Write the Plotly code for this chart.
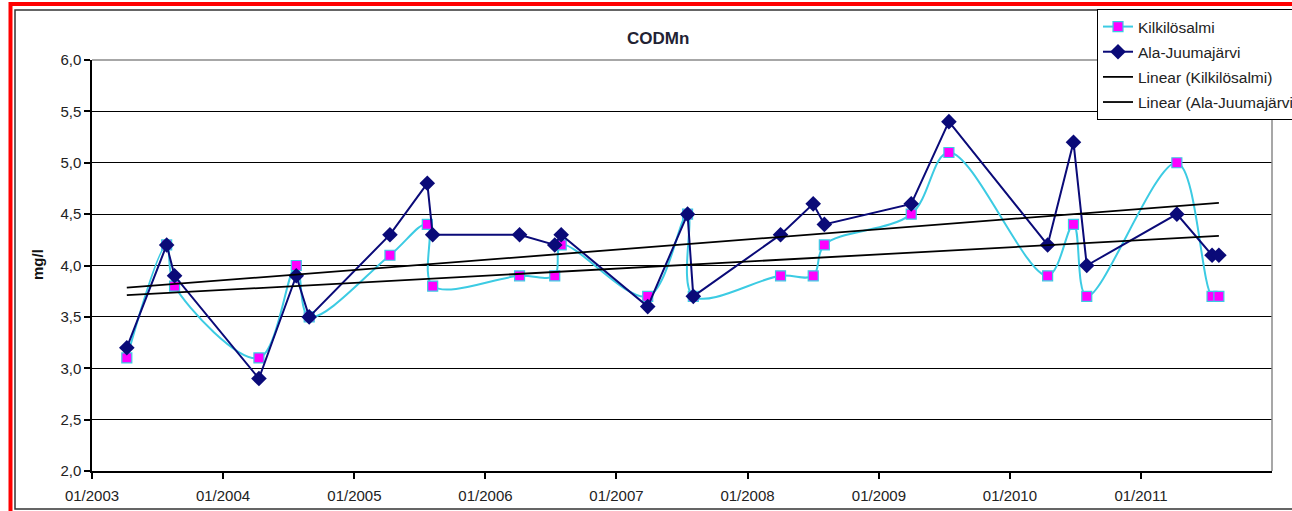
import numpy as np
import pandas as pd
import plotly.graph_objects as go

# ---- data ----
dates = ["2003-04-08", "2003-07-28", "2003-08-19",
         "2004-04-10", "2004-07-23", "2004-08-28",
         "2005-04-10", "2005-07-23", "2005-08-07",
         "2006-04-06", "2006-07-13", "2006-07-31",
         "2007-03-29", "2007-07-18", "2007-08-03",
         "2008-04-02", "2008-07-02", "2008-08-02",
         "2009-04-01", "2009-07-15",
         "2010-04-16", "2010-06-27", "2010-08-03",
         "2011-04-11", "2011-07-18", "2011-08-06"]
kilkilosalmi = [3.1, 4.2, 3.8, 3.1, 4.0, 3.5, 4.1, 4.4, 3.8, 3.9, 3.9, 4.2, 3.7,
                4.5, 3.7, 3.9, 3.9, 4.2, 4.5, 5.1, 3.9, 4.4, 3.7, 5.0, 3.7, 3.7]
ala_juumajarvi = [3.2, 4.2, 3.9, 2.9, 3.9, 3.5, 4.3, 4.8, 4.3, 4.3, 4.2, 4.3, 3.6,
                  4.5, 3.7, 4.3, 4.6, 4.4, 4.6, 5.4, 4.2, 5.2, 4.0, 4.5, 4.1, 4.1]
x_tick_vals = ["2003-01-01", "2004-01-01", "2005-01-01", "2006-01-01", "2007-01-01",
               "2008-01-01", "2009-01-01", "2010-01-01", "2011-01-01"]
x_tick_text = ["01/2003", "01/2004", "01/2005", "01/2006", "01/2007",
               "01/2008", "01/2009", "01/2010", "01/2011"]
y_tick_vals = [2.0, 2.5, 3.0, 3.5, 4.0, 4.5, 5.0, 5.5, 6.0]
y_tick_text = ["2,0", "2,5", "3,0", "3,5", "4,0", "4,5", "5,0", "5,5", "6,0"]

# ---- linear trendlines (least squares on date serial) ----
dt = pd.to_datetime(dates)
xnum = (dt - dt[0]).days.values.astype(float)
def trend(vals):
    k, b = np.polyfit(xnum, np.array(vals), 1)
    ends = np.array([xnum[0], xnum[-1]])
    return [dt[0], dt[-1]], list(k * ends + b)

tx_k, ty_k = trend(kilkilosalmi)
tx_a, ty_a = trend(ala_juumajarvi)

FONT = "Liberation Sans, Arial, sans-serif"
fig = go.Figure()
fig.add_trace(go.Scatter(
    x=dates, y=kilkilosalmi, name="Kilkilösalmi", mode="lines+markers",
    line=dict(color="#3CCBE3", width=2, shape="spline", smoothing=1.0),
    marker=dict(symbol="square", size=10, color="#FF00FF", line=dict(color="#3CCBE3", width=1.2)),
    legendgroup="a"))
fig.add_trace(go.Scatter(
    x=dates, y=ala_juumajarvi, name="Ala-Juumajärvi", mode="lines+markers",
    line=dict(color="#0A0A78", width=2),
    marker=dict(symbol="diamond", size=12, color="#0A0A78"),
    legendgroup="b"))
fig.add_trace(go.Scatter(
    x=tx_k, y=ty_k, name="Linear (Kilkilösalmi)", mode="lines",
    line=dict(color="black", width=1.8), legendgroup="c"))
fig.add_trace(go.Scatter(
    x=tx_a, y=ty_a, name="Linear (Ala-Juumajärvi)", mode="lines",
    line=dict(color="black", width=1.8), legendgroup="d"))

W, H = 1292, 511
L, R, T, B = 92, 20, 60, 40
pw, ph = W - L - R, H - T - B
def px(xp):
    return (xp - L) / pw
def py(yp):
    return (H - B - yp) / ph

fig.update_layout(
    width=W, height=H,
    margin=dict(l=L, r=R, t=T, b=B, autoexpand=False),
    paper_bgcolor="white", plot_bgcolor="white",
    font=dict(family=FONT, size=15, color="#222222"),
    showlegend=True,
    legend=dict(x=px(1097), y=py(9), xanchor="left", yanchor="top",
                bgcolor="white", bordercolor="black", borderwidth=1,
                font=dict(family=FONT, size=15.5, color="#222222"),
                tracegroupgap=2, traceorder="grouped"),
    xaxis=dict(type="date", range=["2003-01-01", "2012-01-01"],
               tickvals=x_tick_vals, ticktext=x_tick_text,
               showgrid=False, showline=True, linecolor="black", linewidth=1.5,
               ticks="outside", ticklen=6, tickcolor="black", tickwidth=1.5,
               tickfont=dict(family=FONT, size=15, color="#222222"), zeroline=False,
               ticklabelstandoff=4, automargin=False),
    yaxis=dict(range=[2, 6], tickvals=y_tick_vals, ticktext=y_tick_text,
               showgrid=True, gridcolor="black", gridwidth=1.2,
               showline=True, linecolor="black", linewidth=1.5,
               ticks="outside", ticklen=6, tickcolor="black", tickwidth=1.5,
               tickfont=dict(family=FONT, size=15, color="#222222"), zeroline=False,
               automargin=False),
    annotations=[
        dict(text="<b>CODMn</b>", x=px(658), y=py(38), xref="paper", yref="paper",
             showarrow=False, xanchor="center", yanchor="middle",
             font=dict(family=FONT, size=17, color="#222233")),
        dict(text="<b>mg/l</b>", x=px(37), y=py(265), xref="paper", yref="paper",
             showarrow=False, xanchor="center", yanchor="middle", textangle=-90,
             font=dict(family=FONT, size=15, color="#111111")),
    ],
    shapes=[
        # plot area border (top and right) in grey
        dict(type="line", xref="paper", yref="paper", x0=0, x1=1, y0=1, y1=1,
             line=dict(color="#8a8a8a", width=1.5), layer="above"),
        dict(type="line", xref="paper", yref="paper", x0=1, x1=1, y0=0, y1=1,
             line=dict(color="#8a8a8a", width=1.5), layer="above"),
        # outer frames
        dict(type="rect", xref="paper", yref="paper", x0=px(15), x1=px(1310),
             y0=py(509), y1=py(10), line=dict(color="#333333", width=1.5), layer="below"),
        dict(type="rect", xref="paper", yref="paper", x0=px(10.5), x1=px(1320),
             y0=py(530), y1=py(4), line=dict(color="#FF0000", width=4), layer="below"),
    ],
)

fig.write_html("out.html")
